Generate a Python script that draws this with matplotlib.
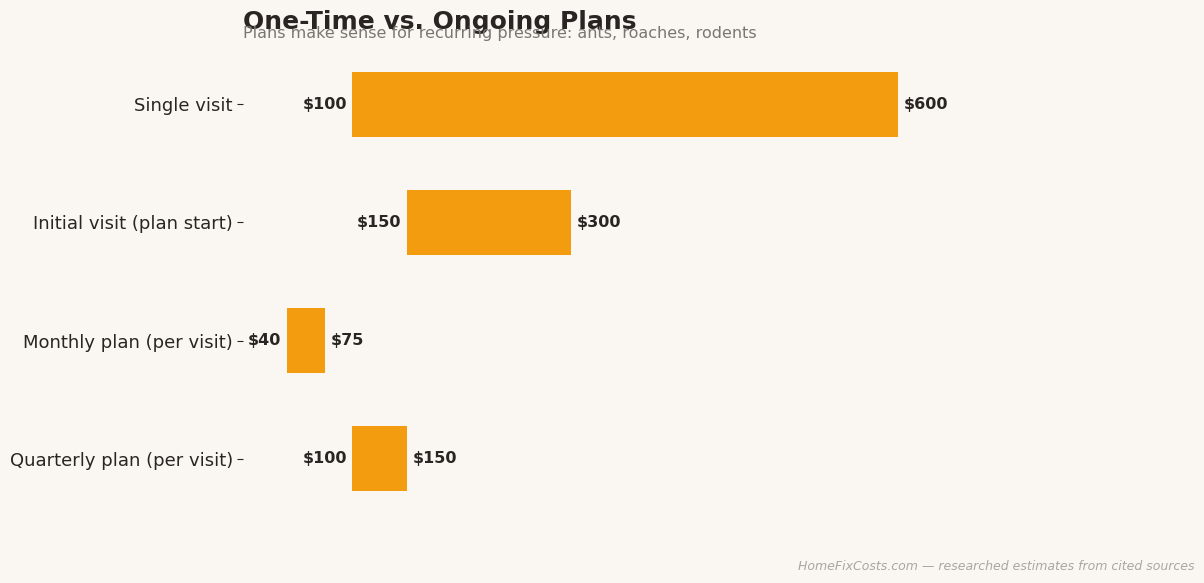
import matplotlib.pyplot as plt

categories = ["Single visit", "Initial visit (plan start)", "Monthly plan (per visit)", "Quarterly plan (per visit)"]
low = [100, 150, 40, 100]
high = [600, 300, 75, 150]

bg = "#faf7f2"
bar_color = "#f39c0f"
text_color = "#2a2523"

fig = plt.figure(figsize=(12.04, 5.83), dpi=100, facecolor=bg)
ax = fig.add_axes([0.202, 0.121, 0.788, 0.792], facecolor=bg)

y = list(range(len(categories)))
widths = [h - l for l, h in zip(low, high)]
ax.barh(y, widths, left=low, height=0.55, color=bar_color)

for yi, l, h in zip(y, low, high):
    ax.annotate(f"${l}", (l, yi), xytext=(-4, 0), textcoords="offset points",
                ha="right", va="center", fontsize=11.5, fontweight="bold", color=text_color)
    ax.annotate(f"${h}", (h, yi), xytext=(4, 0), textcoords="offset points",
                ha="left", va="center", fontsize=11.5, fontweight="bold", color=text_color)

ax.set_yticks(y)
ax.set_yticklabels(categories, fontsize=13, color=text_color)
ax.invert_yaxis()
ax.set_xlim(0, 869)
ax.set_xticks([])
for s in ax.spines.values():
    s.set_visible(False)
ax.tick_params(axis="y", colors=text_color, length=4)

fig.text(0.202, 0.983, "One-Time vs. Ongoing Plans", fontsize=18, fontweight="bold",
         color=text_color, va="top", ha="left")
fig.text(0.202, 0.955, "Plans make sense for recurring pressure: ants, roaches, rodents", fontsize=11.5,
         color="#7a7673", va="top", ha="left")
fig.text(0.992, 0.018, "HomeFixCosts.com \u2014 researched estimates from cited sources", fontsize=9,
         style="italic", color="#aaa6a2", ha="right", va="bottom")

fig.savefig("out.png", dpi=100, facecolor=bg)
